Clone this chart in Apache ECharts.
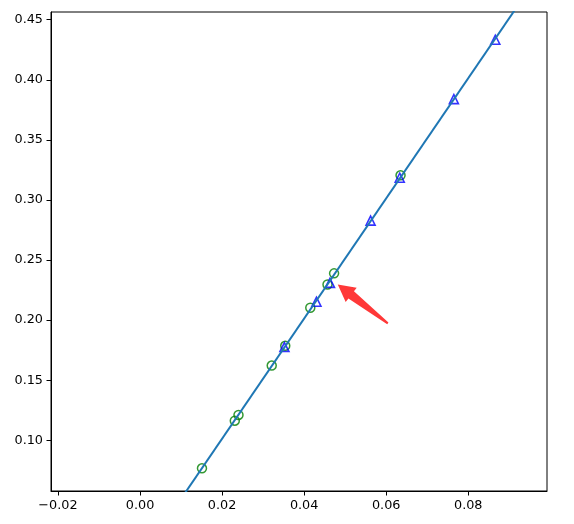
<!DOCTYPE html>
<html>
<head>
<meta charset="utf-8">
<script src="https://cdn.jsdelivr.net/npm/echarts@6/dist/echarts.min.js"></script>
<style>html,body{margin:0;padding:0;background:#fff;}#c{width:574px;height:524px;}</style>
</head>
<body>
<div id="c"></div>
<script>
// Data
const circlesX = [0.0151, 0.0231, 0.0240, 0.0321, 0.0354, 0.0415, 0.0457, 0.0473, 0.0635];
const circlesY = [0.0767, 0.1163, 0.1211, 0.1622, 0.1786, 0.2103, 0.2297, 0.2389, 0.3205];
const triX = [0.0352, 0.0430, 0.0463, 0.0562, 0.0633, 0.0765, 0.0866];
const triY = [0.1776, 0.2153, 0.2310, 0.2828, 0.3185, 0.3839, 0.4333];
const lineX = [0.0, 0.1];
const lineY = [0.0013, 0.5013];
const xTicks = [-0.02, 0.00, 0.02, 0.04, 0.06, 0.08];
const yTicks = [0.10, 0.15, 0.20, 0.25, 0.30, 0.35, 0.40, 0.45];
const xRange = [-0.0217, 0.0992];
const yRange = [0.0578, 0.4564];
const arrowTip = [0.0482, 0.2297];
const arrowTail = [0.0604, 0.1973];

const zip = (a, b) => a.map((v, i) => [v, b[i]]);
const fmt = v => (v < 0 ? '\u2212' : '') + Math.abs(v).toFixed(2);
const font = 'DejaVu Sans';

const chart = echarts.init(document.getElementById('c'), null, {renderer: 'canvas'});
const axisCommon = {
  type: 'value',
  splitLine: {show: false},
  axisLine: {show: true, onZero: false, lineStyle: {color: '#000', width: 1}},
  axisTick: {show: true, length: 4.5, lineStyle: {color: '#000', width: 1}},
  axisLabel: {color: '#000', fontFamily: font, fontSize: 12.8, formatter: fmt}
};
chart.setOption({
  animation: false,
  grid: {left: 51, right: 27, top: 12, bottom: 33, show: true, borderColor: '#000', borderWidth: 1, backgroundColor: 'transparent'},
  xAxis: Object.assign({}, axisCommon, {
    min: xRange[0], max: xRange[1],
    axisTick: Object.assign({}, axisCommon.axisTick, {customValues: xTicks}),
    axisLabel: Object.assign({}, axisCommon.axisLabel, {customValues: xTicks, margin: 8})
  }),
  yAxis: Object.assign({}, axisCommon, {
    min: yRange[0], max: yRange[1],
    axisTick: Object.assign({}, axisCommon.axisTick, {customValues: yTicks}),
    axisLabel: Object.assign({}, axisCommon.axisLabel, {customValues: yTicks, margin: 8})
  }),
  series: [
    {type: 'line', data: zip(lineX, lineY), symbol: 'none', clip: true,
     lineStyle: {color: '#1f77b4', width: 2}},
    {type: 'scatter', data: zip(circlesX, circlesY), symbol: 'circle', symbolSize: 9,
     itemStyle: {color: 'transparent', borderColor: '#008000', borderWidth: 1.5}},
    {type: 'scatter', data: zip(triX, triY), symbol: 'triangle', symbolSize: 9,
     itemStyle: {color: 'transparent', borderColor: '#0000ff', borderWidth: 1.6}}
  ]
});

// Arrow annotation drawn in pixel space from data coordinates
const T = chart.convertToPixel({gridIndex: 0}, arrowTip);
const S = chart.convertToPixel({gridIndex: 0}, arrowTail);
const dx = S[0] - T[0], dy = S[1] - T[1];
const L = Math.hypot(dx, dy);
const u = [dx / L, dy / L], n = [-u[1], u[0]];
const headLen = 17, headHalf = 9, shaftHead = 4.5, shaftTail = 1;
const B = [T[0] + u[0] * headLen, T[1] + u[1] * headLen];
const p = (base, k) => [base[0] + n[0] * k, base[1] + n[1] * k];
const pts = [T, p(B, headHalf), p(B, shaftHead), p(S, shaftTail), p(S, -shaftTail), p(B, -shaftHead), p(B, -headHalf)];
chart.setOption({
  graphic: [{type: 'polygon', shape: {points: pts}, style: {fill: 'rgba(255,0,0,0.78)', stroke: 'none'}, z: 100}]
});
</script>
</body>
</html>
